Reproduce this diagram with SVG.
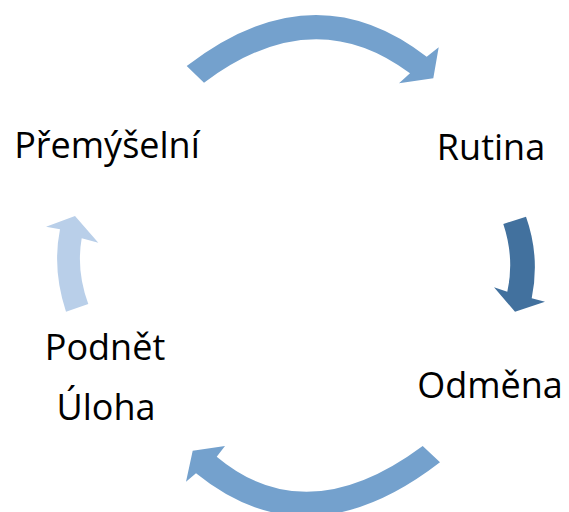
<svg xmlns="http://www.w3.org/2000/svg" width="569" height="512" viewBox="0 0 569 512">
<style>
.lbl{font-family:"Open Sans","Noto Sans","Liberation Sans",sans-serif;font-size:36px;fill:#000;text-anchor:middle}
.mid{fill:#74A1CD}
.dark{fill:#42719E}
.light{fill:#B9CFE9}
</style>
<rect width="569" height="512" fill="#fff"/>
<g id="connectors">
<path class="mid" d="M186.7,66 Q313.3,-31.35 426.7,56.7 L438.7,47.3 L433.3,78.3 L399,83.3 L410,73.3 Q313,0.6 204,82.7 Z"/>
<path class="dark" d="M503.3,224 L526,216.7 Q540.2,256.5 531.7,298.3 L545,301.7 L515,311.7 L494,287.3 L507.3,291.7 Q514.7,258.2 503.3,224 Z"/>
<path class="mid" d="M440,462.3 Q308,564.2 196,473.3 L186,481.7 L192.7,450.7 L225,446 L216.7,456.7 Q306.9,532 422.7,446 Z"/>
<path class="light" d="M66,311.7 Q52,269.5 60,229.3 L46,226.7 L75,216 L98.3,242.7 L81.7,238.3 Q76,270.85 88.3,304 Z"/>
</g>
<g id="premyselni"><text class="lbl" x="107" y="158">Přemýšelní</text></g>
<g id="rutina"><text class="lbl" x="491" y="160">Rutina</text></g>
<g id="odmena"><text class="lbl" x="490" y="398">Odměna</text></g>
<g id="podnet"><text class="lbl" x="105" y="360">Podnět</text><text class="lbl" x="106" y="420">Úloha</text></g>
</svg>
